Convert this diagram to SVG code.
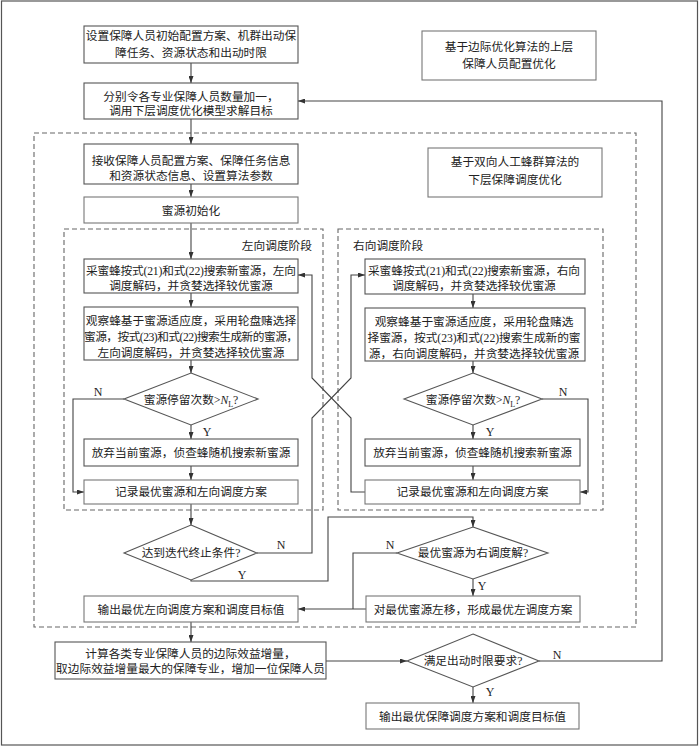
<svg xmlns="http://www.w3.org/2000/svg" width="700" height="747" viewBox="0 0 700 747">
<defs>
<style>
.box{fill:#fff;stroke:#555;stroke-width:1.1}
.lbox{fill:#fff;stroke:#777;stroke-width:1.1}
.dash{fill:none;stroke:#666;stroke-width:1.1;stroke-dasharray:5 3}
.ln{fill:none;stroke:#444;stroke-width:1.1}
.t{font-family:"Liberation Serif","Noto Sans CJK SC",serif;font-size:11.7px;fill:#222;text-anchor:middle}
.l{font-family:"Liberation Serif",serif;font-size:12px;fill:#222;text-anchor:middle}
</style>
<marker id="ah" viewBox="0 0 7 5" refX="7" refY="2.5" markerWidth="7" markerHeight="5" orient="auto" markerUnits="userSpaceOnUse">
<path d="M0,0 L7,2.5 L0,5 z" fill="#333"/>
</marker>
</defs>
<rect x="1.5" y="1" width="696" height="744" fill="#fff" stroke="#555" stroke-width="1.2"/>
<g id="regions">
<rect class="dash" x="34" y="133" width="602" height="494"/>
<rect class="dash" x="64" y="229" width="259" height="281"/>
<rect class="dash" x="338" y="229" width="265" height="281"/>
<text class="t" x="312" y="249.5" style="text-anchor:end">左向调度阶段</text>
<text class="t" x="353" y="249.5" style="text-anchor:start">右向调度阶段</text>
</g>
<g id="connectors">
<path class="ln" d="M191,63 V83" marker-end="url(#ah)"/>
<path class="ln" d="M539,661 H662 V101 H298" marker-end="url(#ah)"/>
<path class="ln" d="M191,119 V144" marker-end="url(#ah)"/>
<path class="ln" d="M191,184 V197" marker-end="url(#ah)"/>
<path class="ln" d="M191,223 V259" marker-end="url(#ah)"/>
<path class="ln" d="M191,293 V307" marker-end="url(#ah)"/>
<path class="ln" d="M191,360 V373" marker-end="url(#ah)"/>
<path class="ln" d="M191,425 V439" marker-end="url(#ah)"/>
<path class="ln" d="M191,466 V480" marker-end="url(#ah)"/>
<path class="ln" d="M191,504 V525" marker-end="url(#ah)"/>
<path class="ln" d="M124,399 H73 V492 H84" marker-end="url(#ah)"/>
<path class="ln" d="M473,294 V308" marker-end="url(#ah)"/>
<path class="ln" d="M473,361 V373" marker-end="url(#ah)"/>
<path class="ln" d="M473,425 V439" marker-end="url(#ah)"/>
<path class="ln" d="M473,466 V480" marker-end="url(#ah)"/>
<path class="ln" d="M542,399 H588 V492 H580" marker-end="url(#ah)"/>
<path class="ln" d="M257,553 H312 V418 L351,378 V275 H365" marker-end="url(#ah)"/>
<path class="ln" d="M365,492 H351 V418 L312,378 V275 H298" marker-end="url(#ah)"/>
<path class="ln" d="M191,580 V581 H328 V517 H473 V527" marker-end="url(#ah)"/>
<path class="ln" d="M397,553 H353 V609"/>
<path class="ln" d="M366,609 H298" marker-end="url(#ah)"/>
<path class="ln" d="M473,579 V596" marker-end="url(#ah)"/>
<path class="ln" d="M191,622 V642" marker-end="url(#ah)"/>
<path class="ln" d="M326,661 H407" marker-end="url(#ah)"/>
<path class="ln" d="M473,687 V703" marker-end="url(#ah)"/>
<text class="l" x="98" y="396">N</text>
<text class="l" x="207" y="436">Y</text>
<text class="l" x="563" y="396">N</text>
<text class="l" x="490" y="436">Y</text>
<text class="l" x="281" y="549">N</text>
<text class="l" x="242" y="579">Y</text>
<text class="l" x="390" y="549">N</text>
<text class="l" x="482" y="590">Y</text>
<text class="l" x="557" y="659">N</text>
<text class="l" x="490" y="696">Y</text>
</g>
<g id="n1"><rect class="box" x="84" y="26" width="214" height="37"/>
<text class="t" x="191" y="39.5">设置保障人员初始配置方案、机群出动保</text>
<text class="t" x="191" y="56.5">障任务、资源状态和出动时限</text></g>
<g id="n2"><rect class="box" x="84" y="83" width="214" height="36"/>
<text class="t" x="191" y="101">分别令各专业保障人员数量加一，</text>
<text class="t" x="191" y="114.5">调用下层调度优化模型求解目标</text></g>
<g id="note1"><rect class="lbox" x="422" y="31" width="174" height="49"/>
<text class="t" x="509" y="51">基于边际优化算法的上层</text>
<text class="t" x="509" y="67.5">保障人员配置优化</text></g>
<g id="n3"><rect class="box" x="84" y="144" width="214" height="40"/>
<text class="t" x="191" y="165">接收保障人员配置方案、保障任务信息</text>
<text class="t" x="191" y="179.5">和资源状态信息、设置算法参数</text></g>
<g id="n4"><rect class="lbox" x="84" y="197" width="214" height="26"/>
<text class="t" x="191" y="214.5">蜜源初始化</text></g>
<g id="note2"><rect class="lbox" x="428" y="148" width="174" height="49"/>
<text class="t" x="515" y="166">基于双向人工蜂群算法的</text>
<text class="t" x="515" y="184">下层保障调度优化</text></g>
<g id="L1"><rect class="box" x="84" y="259" width="214" height="34"/>
<text class="t" x="191" y="274.5" textLength="210">采蜜蜂按式(21)和式(22)搜索新蜜源，左向</text>
<text class="t" x="191" y="289.5">调度解码，并贪婪选择较优蜜源</text></g>
<g id="R1"><rect class="box" x="365" y="259" width="220" height="35"/>
<text class="t" x="474" y="274.5" textLength="212">采蜜蜂按式(21)和式(22)搜索新蜜源，右向</text>
<text class="t" x="474" y="289.5">调度解码，并贪婪选择较优蜜源</text></g>
<g id="L2"><rect class="box" x="84" y="307" width="214" height="53"/>
<text class="t" x="191" y="324.5">观察蜂基于蜜源适应度，采用轮盘赌选择</text>
<text class="t" x="191" y="340.5" textLength="214">蜜源，按式(23)和式(22)搜索生成新的蜜源，</text>
<text class="t" x="191" y="356.5">左向调度解码，并贪婪选择较优蜜源</text></g>
<g id="R2"><rect class="box" x="365" y="308" width="220" height="53"/>
<text class="t" x="474" y="325.5">观察蜂基于蜜源适应度，采用轮盘赌选</text>
<text class="t" x="474" y="341.5" textLength="213">择蜜源，按式(23)和式(22)搜索生成新的蜜</text>
<text class="t" x="474" y="357.5">源，右向调度解码，并贪婪选择较优蜜源</text></g>
<g id="LD"><polygon class="box" points="191,373 258,399 191,425 124,399"/>
<text class="t" x="191" y="403.5">蜜源停留次数&gt;<tspan font-style="italic">N</tspan><tspan font-size="8" dy="3">L</tspan><tspan dy="-3">?</tspan></text></g>
<g id="RD"><polygon class="box" points="473,373 542,399 473,425 404,399"/>
<text class="t" x="473" y="403.5">蜜源停留次数&gt;<tspan font-style="italic">N</tspan><tspan font-size="8" dy="3">L</tspan><tspan dy="-3">?</tspan></text></g>
<g id="L3"><rect class="box" x="84" y="439" width="214" height="27"/>
<text class="t" x="191" y="457">放弃当前蜜源，侦查蜂随机搜索新蜜源</text></g>
<g id="R3"><rect class="box" x="365" y="439" width="215" height="27"/>
<text class="t" x="472.5" y="457">放弃当前蜜源，侦查蜂随机搜索新蜜源</text></g>
<g id="L4"><rect class="lbox" x="84" y="480" width="214" height="24"/>
<text class="t" x="191" y="496">记录最优蜜源和左向调度方案</text></g>
<g id="R4"><rect class="lbox" x="365" y="480" width="215" height="24"/>
<text class="t" x="472.5" y="496">记录最优蜜源和左向调度方案</text></g>
<g id="D3"><polygon class="box" points="191,525 257,553 191,580 124,553"/>
<text class="t" x="191" y="557">达到迭代终止条件?</text></g>
<g id="D4"><polygon class="box" points="473,527 548,553 473,579 397,553"/>
<text class="t" x="473" y="557">最优蜜源为右调度解?</text></g>
<g id="B5"><rect class="lbox" x="84" y="596" width="214" height="26"/>
<text class="t" x="191" y="613.5">输出最优左向调度方案和调度目标值</text></g>
<g id="B6"><rect class="lbox" x="366" y="596" width="214" height="26"/>
<text class="t" x="473" y="613.5">对最优蜜源左移，形成最优左调度方案</text></g>
<g id="B7"><rect class="box" x="55" y="642" width="271" height="37"/>
<text class="t" x="190.5" y="657.5">计算各类专业保障人员的边际效益增量，</text>
<text class="t" x="190.5" y="672.5">取边际效益增量最大的保障专业，增加一位保障人员</text></g>
<g id="D5"><polygon class="box" points="473,634 539,661 473,687 407,661"/>
<text class="t" x="473" y="665">满足出动时限要求?</text></g>
<g id="B8"><rect class="lbox" x="366" y="703" width="213" height="26"/>
<text class="t" x="472.5" y="720.5">输出最优保障调度方案和调度目标值</text></g>
</svg>
